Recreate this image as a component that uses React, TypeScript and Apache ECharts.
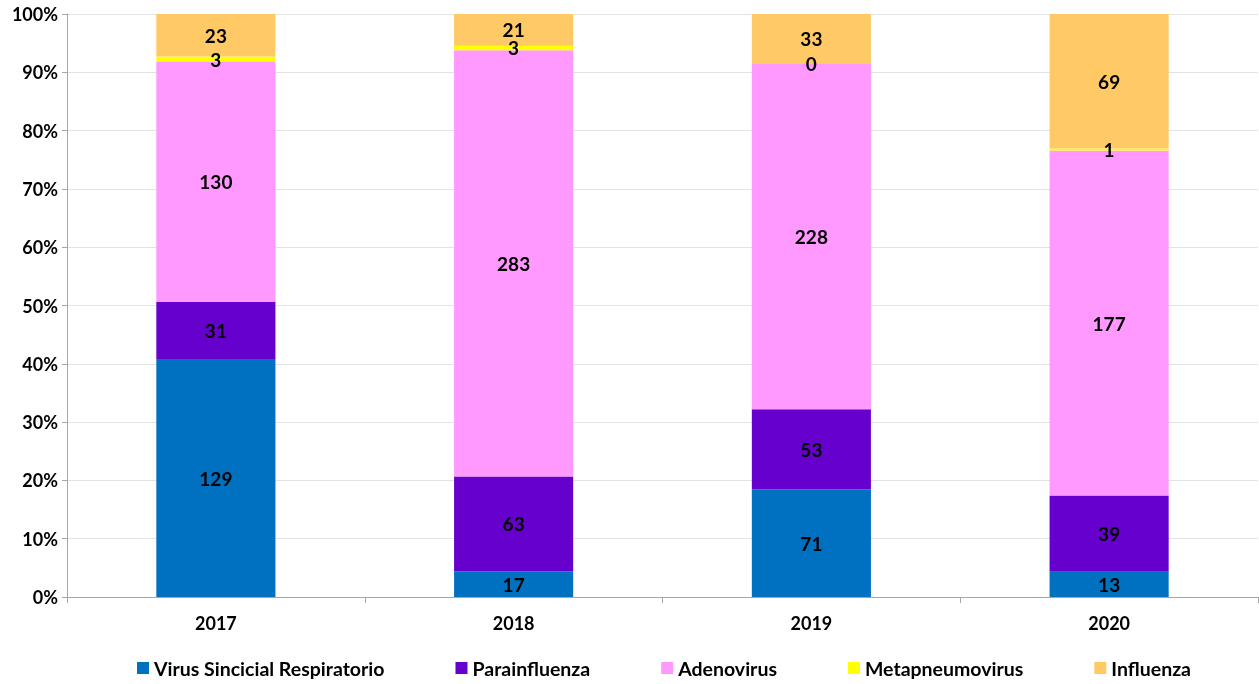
import React, { useEffect, useRef } from "react";
import * as echarts from "echarts";

const categories = ["2017", "2018", "2019", "2020"];
const seriesNames = ["Virus Sincicial Respiratorio", "Parainfluenza", "Adenovirus", "Metapneumovirus", "Influenza"];
const vsr = [129, 17, 71, 13];
const parainfluenza = [31, 63, 53, 39];
const adenovirus = [130, 283, 228, 177];
const metapneumovirus = [3, 3, 0, 1];
const influenza = [23, 21, 33, 69];
const colors = ["#0070C0", "#6600CC", "#FF99FF", "#FFFF00", "#FFC966"];
const yTicks = [0, 10, 20, 30, 40, 50, 60, 70, 80, 90, 100];

const FONT = "Lato";

export default function App() {
  const ref = useRef<HTMLDivElement>(null);
  useEffect(() => {
    if (!ref.current) return;
    const chart = echarts.init(ref.current, null, { renderer: "svg" });
    const all = [vsr, parainfluenza, adenovirus, metapneumovirus, influenza];
    const totals = categories.map((_, i) => all.reduce((s, a) => s + a[i], 0));
    chart.setOption({
      animation: false,
      textStyle: { fontFamily: FONT },
      grid: { left: 67, right: 1, top: 14, bottom: 87, containLabel: false },
      legend: {
        top: 653,
        left: 132,
        itemWidth: 12,
        itemHeight: 12,
        itemGap: 71,
        icon: "rect",
        textStyle: { fontFamily: FONT, fontWeight: "bold", fontSize: 19.5, color: "#000" },
        data: seriesNames,
      },
      xAxis: {
        type: "category",
        data: categories,
        axisLine: { lineStyle: { color: "#A6A6A6" } },
        axisTick: { show: true, length: 6, lineStyle: { color: "#A6A6A6" } },
        axisLabel: { fontFamily: FONT, fontWeight: "bold", fontSize: 18, color: "#000", margin: 17 },
      },
      yAxis: {
        type: "value",
        min: 0,
        max: 100,
        interval: 10,
        axisLine: { show: true, lineStyle: { color: "#A6A6A6" } },
        axisTick: { show: true, length: 5, lineStyle: { color: "#A6A6A6" } },
        splitLine: { lineStyle: { color: "#E3E3E3" } },
        axisLabel: {
          fontFamily: FONT,
          fontWeight: "bold",
          fontSize: 18,
          color: "#000",
          margin: 9,
          formatter: (v: number) => (yTicks.includes(v) ? v + "%" : ""),
        },
      },
      series: all.map((arr, si) => ({
        name: seriesNames[si],
        type: "bar",
        stack: "total",
        barWidth: "40%",
        itemStyle: { color: colors[si] },
        label: {
          show: true,
          position: "inside",
          fontFamily: FONT,
          fontWeight: "bold",
          fontSize: 19,
          color: "#000",
          formatter: (p: any) => String(arr[p.dataIndex]),
        },
        data: arr.map((v, i) => (v / totals[i]) * 100),
      })),
    });
    return () => chart.dispose();
  }, []);
  return <div ref={ref} style={{ position: "fixed", left: 0, top: 0, width: 1259, height: 684 }} />;
}
